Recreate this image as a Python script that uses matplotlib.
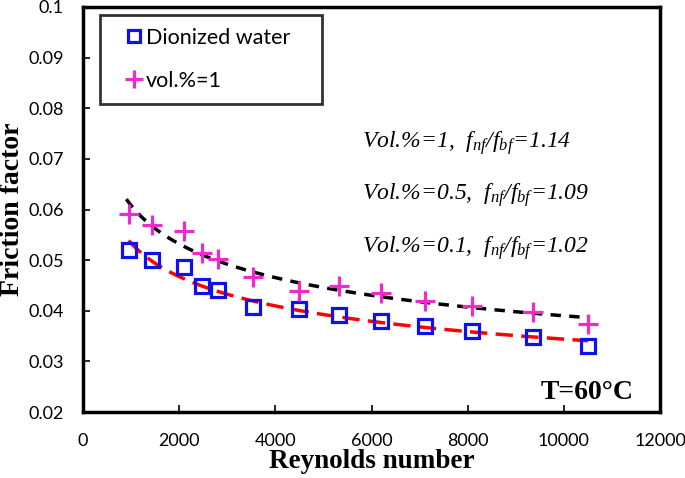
import matplotlib
matplotlib.use('Agg')
import matplotlib.pyplot as plt
from matplotlib.lines import Line2D
import numpy as np

"Friction factor vs Reynolds number at T=60C, base fluid and vol.%=1"

plt.rcParams['mathtext.fontset'] = 'custom'
plt.rcParams['mathtext.it'] = 'Liberation Serif:italic'
plt.rcParams['mathtext.rm'] = 'Liberation Serif:italic'

# data
re_water = [950, 1430, 2100, 2470, 2800, 3530, 4500, 5320, 6200, 7120, 8080, 9360, 10500]
f_water = [0.0520, 0.0500, 0.0487, 0.0448, 0.0441, 0.0408, 0.0404, 0.0392, 0.0380,
           0.0369, 0.0360, 0.0348, 0.0330]
re_nf = [950, 1430, 2100, 2470, 2800, 3530, 4500, 5320, 6200, 7120, 8080, 9360, 10500]
f_nf = [0.0591, 0.0570, 0.0558, 0.0514, 0.0502, 0.0466, 0.0440, 0.0448, 0.0435,
        0.0420, 0.0410, 0.0397, 0.0373]

notes = ['Vol.%=1,  $f_{nf}/f_{bf}$=1.14',
         'Vol.%=0.5,  $f_{nf}/f_{bf}$=1.09',
         'Vol.%=0.1,  $f_{nf}/f_{bf}$=1.02']


def power_fit(x, y, x0=None):
    # excel style power trendline
    b, a = np.polyfit(np.log(x), np.log(y), 1)
    xx = np.linspace(x0 or min(x), max(x), 200)
    return xx, np.exp(a) * xx ** b


fig = plt.figure(figsize=(6.85, 4.78), dpi=100)
ax = fig.add_axes([0.1212, 0.138, 0.8423, 0.8474])

xw, yw = power_fit(re_water, f_water)
xn, yn = power_fit(re_nf, f_nf, 900)
ax.plot(xn, yn, color='black', lw=2.5, dashes=(3, 2.4))
ax.plot(xw, yw, color='red', lw=2.5, dashes=(5, 2.4))

ax.plot(re_water, f_water, ls='none', marker='s', ms=10, mfc='none',
        mec='#1010EE', mew=2.3)
ax.plot(re_nf, f_nf, ls='none', marker='+', ms=15, mec='#EE2ACB', mew=2.3)

ax.set_xlim(0, 12000)
ax.set_ylim(0.02, 0.1)
ax.set_xticks(np.arange(0, 12001, 2000))
ax.set_yticks(np.arange(0.02, 0.1001, 0.01))
ax.set_yticklabels(['0.02', '0.03', '0.04', '0.05', '0.06', '0.07', '0.08', '0.09', '0.1'])
ax.tick_params(direction='in', length=5, width=1.2, labelsize=13)
ax.tick_params(axis='x', pad=15)
ax.tick_params(axis='y', pad=14)
for lab in ax.get_xticklabels() + ax.get_yticklabels():
    lab.set_fontfamily('Lato')
for sp in ax.spines.values():
    sp.set_linewidth(2.5)

ax.set_xlabel('Reynolds number', fontfamily='Liberation Serif', fontweight='bold',
              fontsize=19.5, labelpad=0)
ax.set_ylabel('Friction factor', fontfamily='Liberation Serif', fontweight='bold',
              fontsize=20, labelpad=2)

for i, t in enumerate(notes):
    ax.text(0.483, 0.665 - i * 0.13, t, transform=ax.transAxes, fontfamily='Liberation Serif',
            fontstyle='italic', fontsize=17, va='center')

ax.text(0.955, 0.048, 'T=60°C', transform=ax.transAxes, fontfamily='Liberation Serif',
        fontweight='bold', fontsize=20, ha='right', va='center')

handles = [Line2D([], [], ls='none', marker='s', ms=8, mfc='none', mec='#1010EE', mew=2.3),
           Line2D([], [], ls='none', marker='+', ms=13, mec='#EE2ACB', mew=2.3)]
leg = ax.legend(handles, ['Dionized water', 'vol.%=1'], loc='upper left',
                bbox_to_anchor=(0.029, 0.765, 0.385, 0.215), mode='expand',
                prop={'family': 'Lato', 'size': 15.5},
                frameon=True, fancybox=False, handlelength=1.95, handletextpad=-0.4,
                borderpad=0.6, labelspacing=1.05, borderaxespad=0)
leg.get_frame().set_edgecolor('black')
leg.get_frame().set_linewidth(2)

fig.savefig('out.png', dpi=100)
